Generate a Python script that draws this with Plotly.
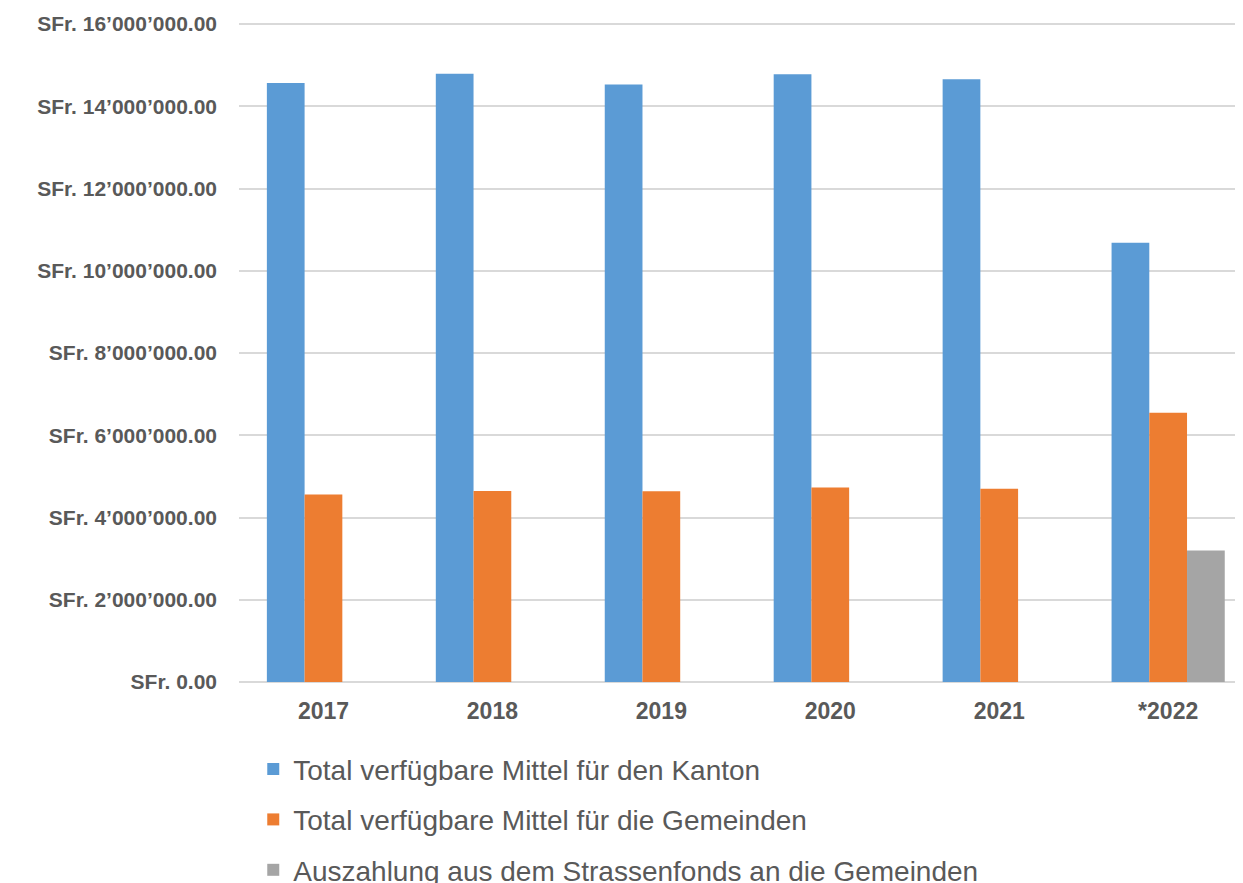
import plotly.graph_objects as go

years = ["2017", "2018", "2019", "2020", "2021", "*2022"]
kanton = [14570000, 14790000, 14530000, 14780000, 14660000, 10680000]
gemeinden = [4560000, 4645000, 4640000, 4730000, 4700000, 6550000]
strassenfonds = [None, None, None, None, None, 3200000]

series_names = [
    "Total verfügbare Mittel für den Kanton",
    "Total verfügbare Mittel für die Gemeinden",
    "Auszahlung aus dem Strassenfonds an die Gemeinden",
]
colors = ["#5B9BD5", "#ED7D31", "#A5A5A5"]

tick_vals = [0, 2000000, 4000000, 6000000, 8000000, 10000000, 12000000, 14000000, 16000000]
tick_text = [
    "SFr. 0.00",
    "SFr. 2’000’000.00",
    "SFr. 4’000’000.00",
    "SFr. 6’000’000.00",
    "SFr. 8’000’000.00",
    "SFr. 10’000’000.00",
    "SFr. 12’000’000.00",
    "SFr. 14’000’000.00",
    "SFr. 16’000’000.00",
]

FONT = "Liberation Sans, Arial, sans-serif"

fig = go.Figure()
for name, vals, col, grp in zip(series_names, [kanton, gemeinden, strassenfonds], colors, ["a", "b", "c"]):
    fig.add_trace(go.Bar(
        x=years, y=vals, name=name, marker_color=col,
        marker_line_width=0, legendgroup=grp,
    ))

fig.update_layout(
    width=1235, height=875,
    paper_bgcolor="white", plot_bgcolor="white",
    margin=dict(l=230.7, r=0, t=12.3, b=201.3),
    barmode="group", bargap=0.33, bargroupgap=0,
    font=dict(family=FONT, color="#595959"),
    legend=dict(
        orientation="v", xref="paper", x=0.0142, xanchor="left",
        yref="container", y=0.1585, yanchor="top",
        font=dict(size=28, color="#595959", family=FONT), tracegroupgap=11,
        bgcolor="rgba(0,0,0,0)", itemwidth=30,
    ),
    xaxis=dict(
        range=[-0.5, 5.443],
        showgrid=False, showline=False, ticks="", ticklabelstandoff=13,
        tickfont=dict(size=23, color="#595959", family=FONT, weight="bold"),
    ),
    yaxis=dict(
        range=[0, 16100000], tickvals=tick_vals, ticktext=tick_text,
        showgrid=True, gridcolor="#D9D9D9", gridwidth=1.5,
        zeroline=True, zerolinecolor="#D9D9D9", zerolinewidth=1.5,
        ticks="", ticklabelstandoff=21,
        tickfont=dict(size=21, color="#595959", family=FONT, weight="bold"),
    ),
)

fig.write_html("out.html")
